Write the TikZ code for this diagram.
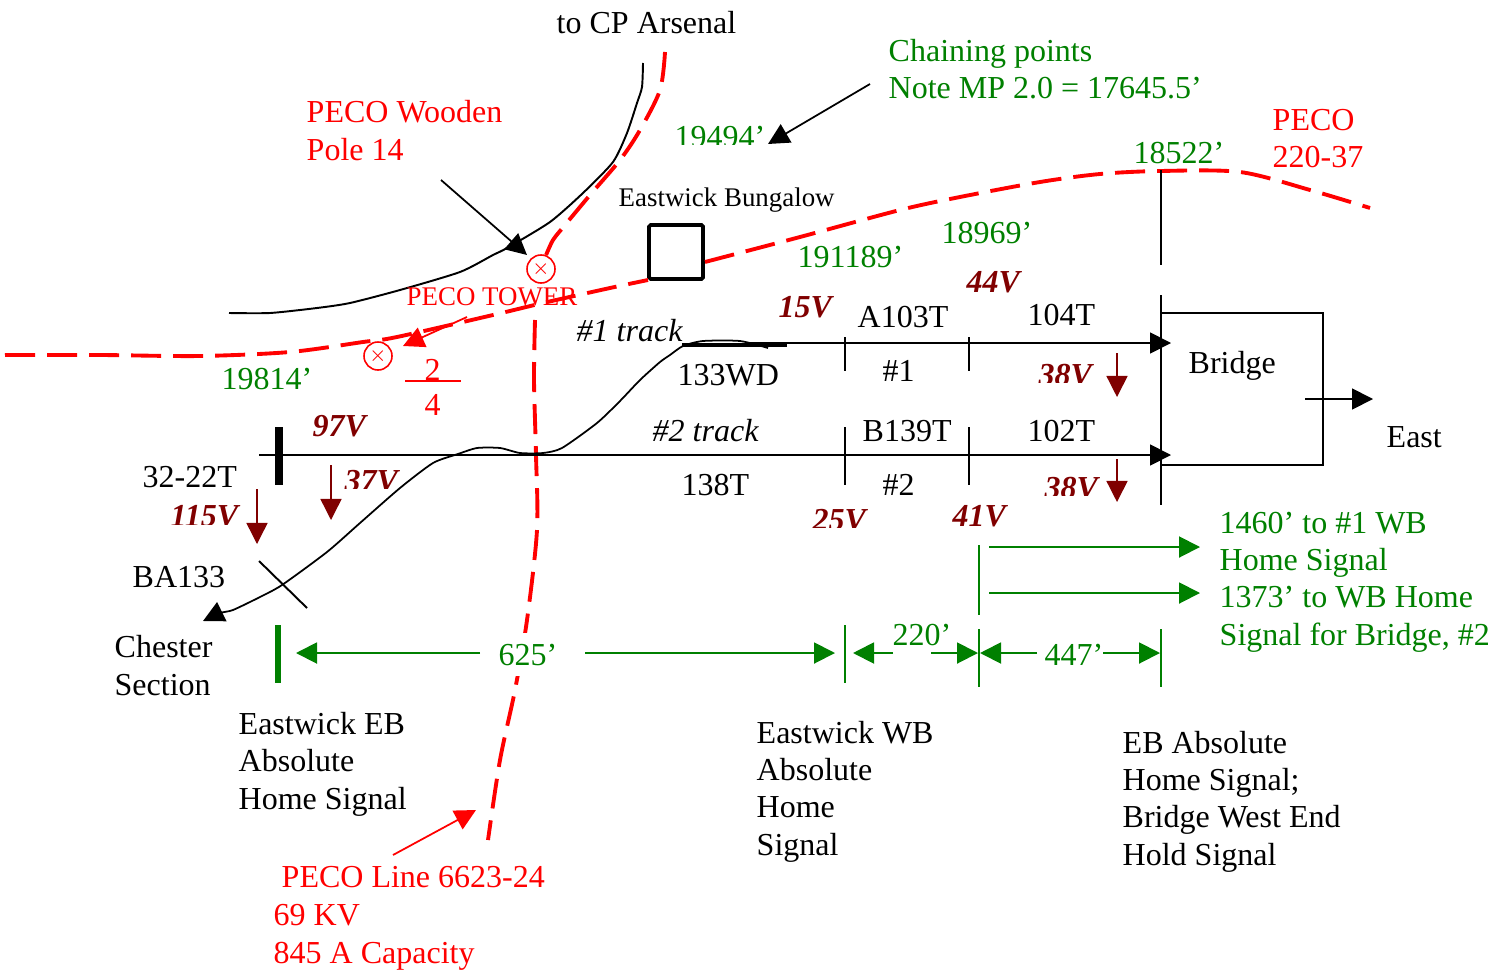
\documentclass[tikz,border=0pt]{standalone}
\usepackage{fontspec}
\setmainfont{Liberation Serif}
\usetikzlibrary{arrows.meta}
\definecolor{pecoRed}{HTML}{FF0000}
\definecolor{chainGreen}{HTML}{008000}
\definecolor{voltDark}{HTML}{800000}
\newcommand{\bigtext}{\fontsize{9.1}{10.55}\selectfont}
\newcommand{\smalltext}{\fontsize{7.65}{9}\selectfont}
\tikzset{
  lab/.style={anchor=base west, inner sep=0pt, xshift=-0.01cm, align=left, font=\bigtext},
  labK/.style={lab, text=black},
  labR/.style={lab, text=pecoRed},
  labG/.style={lab, text=chainGreen},
  labV/.style={lab, text=voltDark, font=\bigtext\bfseries\itshape},
  arrowK/.style={-{Triangle[length=2.1mm, width=2.1mm]}, black, line width=0.5pt},
  arrowR/.style={-{Triangle[length=2.1mm, width=2.1mm]}, pecoRed, line width=0.5pt},
  arrowG/.style={-{Triangle[length=2.1mm, width=2.1mm]}, chainGreen, line width=0.55pt},
  arrowV/.style={-{Triangle[length=2.1mm, width=2.1mm]}, voltDark, line width=0.4pt},
  wire/.style={black, line width=0.55pt},
  tick/.style={chainGreen, line width=0.55pt},
  pecoline/.style={pecoRed, line width=1.1pt, dash pattern=on 3mm off 1.2mm},
  pole/.style={circle, draw=pecoRed, text=pecoRed, line width=0.45pt, inner sep=0pt,
               minimum size=2.8mm, font=\fontsize{5.5}{6}\selectfont},
  bungalow/.style={rectangle, draw=black, rounded corners=0.5pt, line width=1.1pt,
                   minimum size=5.4mm, inner sep=0pt},
}

\begin{document}
\begin{tikzpicture}[x=0.01cm, y=-0.01cm]
  \useasboundingbox (0,0) rectangle (1507,973);

  % free line ends
  \coordinate (trk1W) at (748,343);   \coordinate (trk1E) at (1171,343);
  \coordinate (trk2W) at (259,455);   \coordinate (trk2E) at (1171,455);
  \coordinate (wdW) at (682,345);     \coordinate (wdE) at (787,345);
  \coordinate (sigT) at (279,427);    \coordinate (sigB) at (279,485);
  \coordinate (baN) at (259,561);     \coordinate (baS) at (307,608);
  \coordinate (brN) at (1161,295);    \coordinate (brS) at (1161,505);
  \coordinate (brNE) at (1323,313);   \coordinate (brSE) at (1323,465);
  \coordinate (brNW) at (1161,313);   \coordinate (brSW) at (1161,465);
  \coordinate (stubN) at (1161,170);  \coordinate (stubS) at (1161,265);
  \coordinate (eastA) at (1305,399);  \coordinate (eastB) at (1373,399);
  \coordinate (woodA) at (441,180);   \coordinate (woodB) at (527,255);
  \coordinate (chainA) at (870,84);   \coordinate (chainB) at (768,144);
  \coordinate (towerA) at (467,317);  \coordinate (towerB) at (403,346);
  \coordinate (lineA) at (393,855);   \coordinate (lineB) at (476,810);
  \coordinate (fracW) at (405,381);   \coordinate (fracE) at (461,381);
  \coordinate (vA) at (257,489);      \coordinate (vB) at (257,544);
  \coordinate (vC) at (331,465);      \coordinate (vD) at (331,520);
  \coordinate (vE) at (1117,353);     \coordinate (vF) at (1117,397);
  \coordinate (vG) at (1117,459);     \coordinate (vH) at (1117,502);
  \coordinate (gSigT) at (278,625);   \coordinate (gSigB) at (278,683);
  \coordinate (wbT) at (845,625);     \coordinate (wbB) at (845,683);
  \coordinate (upT) at (979,545);     \coordinate (upB) at (979,615);
  \coordinate (midT) at (979,629);    \coordinate (midB) at (979,687);
  \coordinate (ebT) at (1161,629);    \coordinate (ebB) at (1161,687);
  \coordinate (rtA) at (989,547);     \coordinate (rtB) at (1200,547);
  \coordinate (rtC) at (989,593);     \coordinate (rtD) at (1200,593);
  \coordinate (dA) at (480,653);      \coordinate (dB) at (296,653);
  \coordinate (dC) at (585,653);      \coordinate (dD) at (835,653);
  \coordinate (dE) at (893,653);      \coordinate (dF) at (853,653);
  \coordinate (dG) at (931,653);      \coordinate (dH) at (978,653);
  \coordinate (dI) at (1037,653);     \coordinate (dJ) at (980,653);
  \coordinate (dK) at (1103,653);     \coordinate (dL) at (1160,653);

  % PECO lines
  \node[bungalow] (bung) at (676,252) {};
  \node[pole] (polN) at (541,269) {$\times$};
  \node[pole] (polS) at (378,356) {$\times$};
  \draw[pecoline] plot[smooth, tension=0.5] coordinates {(5,355) (100,355) (200,356) (290,352) (363,342)
    (397,337) (493,315) (543,303) (610,288) (648,280)};
  \draw[pecoline] plot[smooth, tension=0.5] coordinates {(705,262) (800,237) (900,210) (960,197) (1040,182)
    (1100,174) (1160,171) (1240,172) (1310,190) (1370,208)};
  \draw[pecoline] plot[smooth, tension=0.5] coordinates {(665,52) (660,90) (640,130) (620,160) (590,195)
    (565,225) (553,240) (polN.70)};
  \draw[pecoline] plot[smooth, tension=0.5] coordinates {(535,320) (534,380) (536,455) (537,530) (527,620)
    (515,690) (500,760) (488,840)};

  % tracks and the freehand curves
  \draw[wire] plot[smooth, tension=0.4] coordinates {(229,313) (270,313) (317,308) (350,303) (400,290)
    (460,272) (493,255) (507,248) (550,222) (583,193) (613,162) (627,133) (637,103) (642,87) (643,63)};
  \draw[arrowK] plot[smooth, tension=0.4] coordinates {(768,348) (740,341) (703,341) (683,346) (670,355)
    (660,362) (640,380) (620,401) (597,423) (562,448) (543,453) (520,453) (500,448) (477,448) (458,454)
    (433,463) (400,488) (360,523) (327,552) (282,585) (260,597) (233,610) (220,613) (203,621)};
  \draw[arrowK] (trk1W) -- (trk1E);
  \draw[arrowK] (trk2W) -- (trk2E);
  \draw[black, line width=1pt] (wdW) -- (wdE);
  \draw[black, line width=2.3pt] (sigT) -- (sigB);
  \draw[wire] (baN) -- (baS);
  \foreach \tx in {845,969}{
    \draw[wire] (\tx,337) -- (\tx,371);
    \draw[wire] (\tx,427) -- (\tx,485);
  }

  % bridge
  \draw[wire] (brN) -- (brS);
  \draw[wire] (stubN) -- (stubS);
  \draw[wire] (brNW) -- (brNE) -- (brSE) -- (brSW);
  \draw[arrowK] (eastA) -- (eastB);

  % pointers
  \draw[arrowK] (woodA) -- (woodB);
  \draw[arrowK] (chainA) -- (chainB);
  \draw[arrowR] (towerA) -- (towerB);
  \draw[arrowR] (lineA) -- (lineB);
  \draw[pecoRed, line width=0.5pt] (fracW) -- (fracE);
  \draw[arrowV] (vA) -- (vB);
  \draw[arrowV] (vC) -- (vD);
  \draw[arrowV] (vE) -- (vF);
  \draw[arrowV] (vG) -- (vH);

  % distances
  \draw[chainGreen, line width=1.7pt] (gSigT) -- (gSigB);
  \draw[tick] (wbT) -- (wbB);
  \draw[tick] (upT) -- (upB);
  \draw[tick] (midT) -- (midB);
  \draw[tick] (ebT) -- (ebB);
  \draw[arrowG] (rtA) -- (rtB);
  \draw[arrowG] (rtC) -- (rtD);
  \draw[arrowG] (dA) -- (dB);
  \draw[arrowG] (dC) -- (dD);
  \draw[arrowG] (dE) -- (dF);
  \draw[arrowG] (dG) -- (dH);
  \draw[arrowG] (dI) -- (dJ);
  \draw[arrowG] (dK) -- (dL);

  % black labels
  \node[labK] (arsenal) at (557,34) {to CP Arsenal};
  \node[labK, font=\smalltext] (bungLab) at (619,206) {Eastwick Bungalow};
  \node[labK, font=\bigtext\itshape] (trkA) at (577,341) {\#1 track};
  \node[labK, font=\bigtext\itshape] (trkB) at (653,441) {\#2 track};
  \node[labK] (a103) at (858,327) {A103T};
  \node[labK] (t104) at (1028,325) {104T};
  \node[labK] (wd133) at (678,385) {133WD};
  \node[labK] (no1) at (883,381) {\#1};
  \node[labK] (bridge) at (1189,373) {Bridge};
  \node[labK] (east) at (1387,447) {East};
  \node[labK] (b139) at (863,441) {B139T};
  \node[labK] (t102) at (1028,441) {102T};
  \node[labK] (t3222) at (143,487) {32-22T};
  \node[labK] (t138) at (682,495) {138T};
  \node[labK] (no2) at (883,495) {\#2};
  \node[labK] (ba133) at (133,587) {BA133};
  \node[labK] (chester) at (115,695) {Chester\\Section};
  \node[labK] (ebSig) at (239,809) {Eastwick EB\\Absolute\\Home Signal};
  \node[labK] (wbSig) at (757,855) {Eastwick WB\\Absolute\\Home\\Signal};
  \node[labK] (brSig) at (1123,865) {EB Absolute\\Home Signal;\\Bridge West End\\Hold Signal};

  % red labels
  \node[labR] (wooden) at (307,160) {PECO Wooden\\Pole 14};
  \node[labR] (peco220) at (1273,168) {PECO\\220-37};
  \node[labR, font=\smalltext] (tower) at (407,305) {PECO TOWER};
  \node[labR] (frTop) at (425,380) {2};
  \node[labR] (frBot) at (425,415) {4};
  \node[labR] (line6623) at (282,887) {PECO Line 6623-24};
  \node[labR] (kv69) at (274,963) {69 KV\\845 A Capacity};

  % green labels
  \node[labG] (chain) at (889,99) {Chaining points\\Note MP 2.0 = 17645.5’};
  \node[labG] (c18522) at (1134,163) {18522’};
  \node[labG] (c18969) at (942,243) {18969’};
  \node[labG] (c191189) at (798,267) {191189’};
  \node[labG] (c19814) at (222,389) {19814’};
  \node[labG, fill=white, inner ysep=1.05mm] (d625) at (499,665) {625’};
  \node[labG] (d220) at (893,645) {220’};
  \node[labG] (d447) at (1045,665) {447’};
  \node[labG] (wb1460) at (1220,645) {1460’ to \#1 WB\\Home Signal\\1373’ to WB Home\\Signal for Bridge, \#2};
  \begin{scope}
    \clip (660,100) rectangle (780,145);
    \node[labG] (c19494) at (675,147) {19494’};
  \end{scope}

  % voltages
  \node[labV] (v15) at (779,317) {15V};
  \node[labV] (v44) at (967,292) {44V};
  \node[labV] (v97) at (313,436) {97V};
  \node[labV] (v41) at (953,526) {41V};
  \foreach \vx/\vy/\vcut/\vtxt in {345/491/488/37V, 171/526/524/115V, 1039/385/382/38V,
                                    1045/498/495/38V, 813/530/527/25V}{
    \begin{scope}
      \clip (\vx-5,\vcut-40) rectangle (\vx+80,\vcut);
      \node[labV] at (\vx,\vy) {\vtxt};
    \end{scope}
  }
\end{tikzpicture}
\end{document}
